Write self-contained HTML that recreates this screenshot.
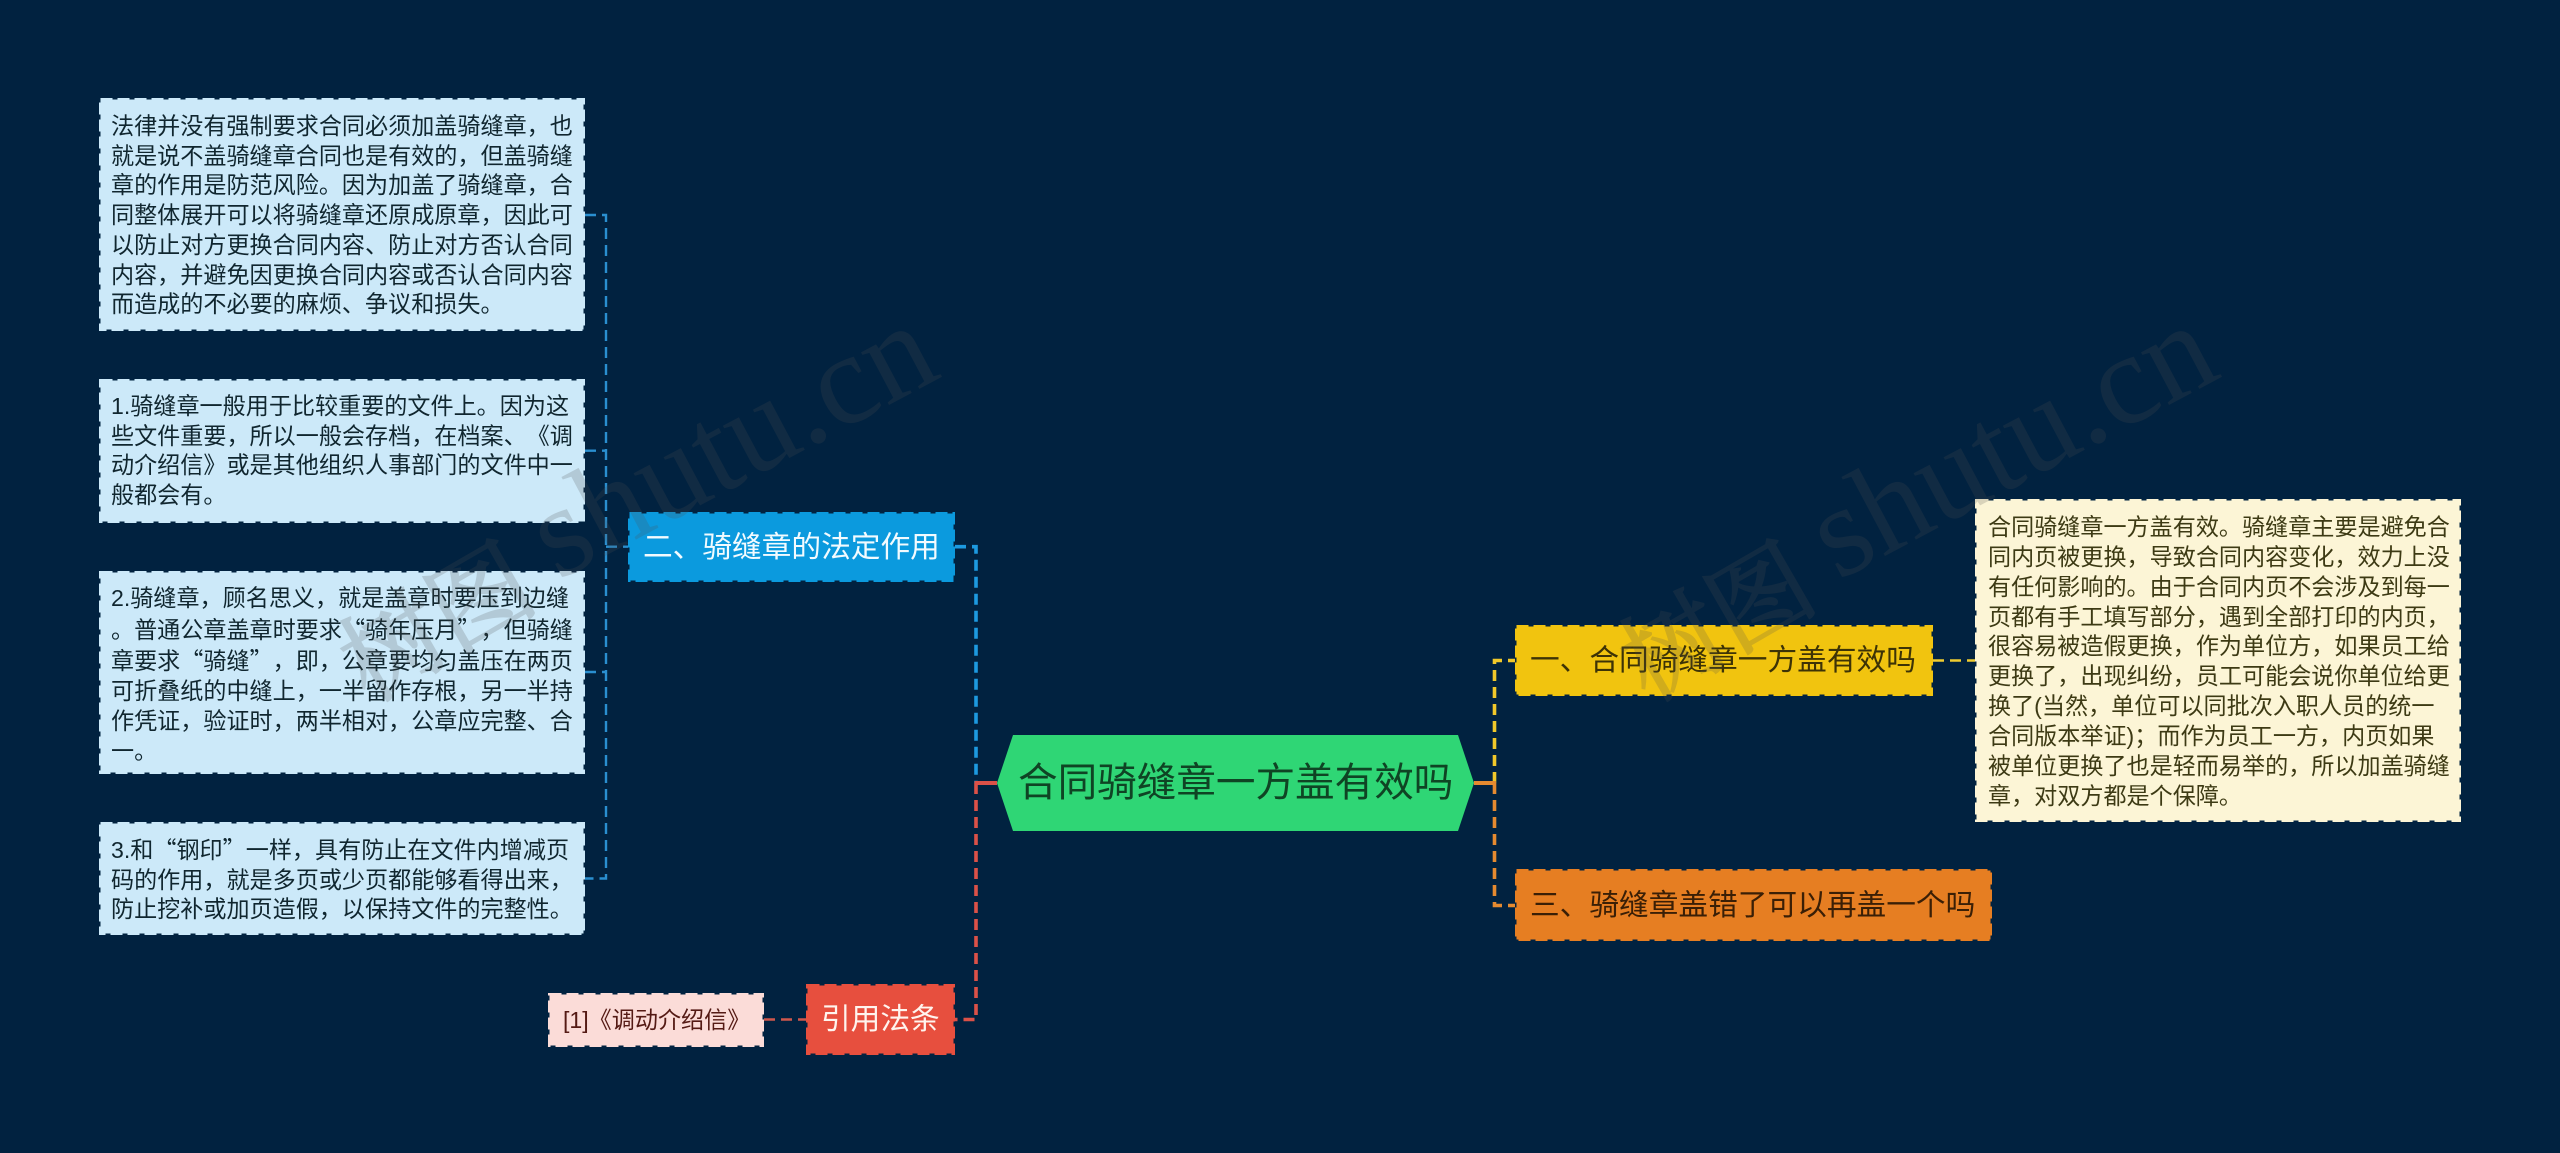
<!DOCTYPE html>
<html lang="zh-CN"><head><meta charset="utf-8"><title>合同骑缝章一方盖有效吗</title>
<style>
html,body{margin:0;padding:0;width:2560px;height:1153px;overflow:hidden;background:#012240}
body{position:relative;font-family:"Liberation Sans","Noto Sans CJK SC","WenQuanYi Zen Hei",sans-serif;text-spacing-trim:space-all;font-kerning:none}
.t{position:absolute;white-space:nowrap}
.q{font-family:"Noto Sans CJK SC",sans-serif}
.small{font-size:23.1px;line-height:29.7px}
.big{font-size:29.7px;line-height:36px}
svg{position:absolute;left:0;top:0}
</style></head><body>
<svg width="2560" height="1153" fill="none">
<g stroke-width="2.4" stroke-dasharray="11 6">
<path d="M585 215H606V878.5H585" stroke="#2a8fd0"/>
<path d="M585 450.7H606" stroke="#2a8fd0"/>
<path d="M606 546.7H628" stroke="#2a8fd0"/>
<path d="M585 672H606" stroke="#2a8fd0"/>
<path d="M764 1019.5H806" stroke="#d0574c"/>
<path d="M1933 660.5H1975" stroke="#f0cc30"/>
</g>
<g stroke-width="3.6" stroke-dasharray="11 6">
<path d="M955 546.7H976V783" stroke="#1d9ae0"/>
<path d="M976 783V1019.5H955" stroke="#db5148"/>
<path d="M1494.5 783V660.5H1515" stroke="#f1c82a"/>
<path d="M1494.5 783V905.5H1515" stroke="#e58a30"/>
</g>
<path d="M974.5 783H997" stroke="#db5148" stroke-width="4"/>
<path d="M1474 783H1496" stroke="#e58a30" stroke-width="4"/>
<polygon points="997,783 1013,735 1458,735 1474,783 1458,831 1013,831" fill="#2fd675"/>
<g stroke-width="3" stroke-dasharray="12 5">
<rect x="100.5" y="99.5" width="483" height="230" fill="#cce9f9" stroke="#cce9f9"/>
<rect x="100.5" y="380.5" width="483" height="141" fill="#cce9f9" stroke="#cce9f9"/>
<rect x="100.5" y="572.5" width="483" height="200" fill="#cce9f9" stroke="#cce9f9"/>
<rect x="100.5" y="823.5" width="483" height="110" fill="#cce9f9" stroke="#cce9f9"/>
<rect x="629.5" y="513.5" width="324" height="67" fill="#0b9ade" stroke="#0b9ade"/>
<rect x="807.5" y="985.5" width="146" height="68" fill="#e74f3e" stroke="#e74f3e"/>
<rect x="549.5" y="994.5" width="213" height="51" fill="#fbdcd8" stroke="#fbdcd8"/>
<rect x="1516.5" y="626.5" width="415" height="68" fill="#f1c40f" stroke="#f1c40f"/>
<rect x="1516.5" y="870.5" width="474" height="69" fill="#e67e22" stroke="#e67e22"/>
<rect x="1976.5" y="500.5" width="483" height="320" fill="#fcf5d6" stroke="#fcf5d6"/>
</g>
</svg>

<div class="t" style="left:1018px;top:758px;font-size:39.6px;line-height:50px;color:#0f4424">合同骑缝章一方盖有效吗</div>

<div class="t small" style="left:111px;top:112px;color:#10262f">法律并没有强制要求合同必须加盖骑缝章，也<br>就是说不盖骑缝章合同也是有效的，但盖骑缝<br>章的作用是防范风险。因为加盖了骑缝章，合<br>同整体展开可以将骑缝章还原成原章，因此可<br>以防止对方更换合同内容、防止对方否认合同<br>内容，并避免因更换合同内容或否认合同内容<br>而造成的不必要的麻烦、争议和损失。</div>

<div class="t small" style="left:111px;top:392px;color:#10262f">1.骑缝章一般用于比较重要的文件上。因为这<br>些文件重要，所以一般会存档，在档案、《调<br>动介绍信》或是其他组织人事部门的文件中一<br>般都会有。</div>

<div class="t small" style="left:111px;top:584px;color:#10262f">2.骑缝章，顾名思义，就是盖章时要压到边缝<br>。普通公章盖章时要求<span class="q">“</span>骑年压月<span class="q">”</span>，但骑缝<br>章要求<span class="q">“</span>骑缝<span class="q">”</span>，即，公章要均匀盖压在两页<br>可折叠纸的中缝上，一半留作存根，另一半持<br>作凭证，验证时，两半相对，公章应完整、合<br>一。</div>

<div class="t small" style="left:111px;top:834px;color:#10262f">3.和<span class="q">“</span>钢印<span class="q">”</span>一样，具有防止在文件内增减页<br>码的作用，就是多页或少页都能够看得出来，<br>防止挖补或加页造假，以保持文件的完整性。</div>

<div class="t big" style="left:643px;top:530px;color:#f2fbff">二、骑缝章的法定作用</div>
<div class="t big" style="left:821px;top:1002px;color:#fff4ee">引用法条</div>
<div class="t small" style="left:563px;top:1006px;color:#541a14">[1]《调动介绍信》</div>
<div class="t big" style="left:1530px;top:643px;color:#3d3306">一、合同骑缝章一方盖有效吗</div>
<div class="t big" style="left:1530px;top:888px;color:#3a1f06">三、骑缝章盖错了可以再盖一个吗</div>

<div class="t" style="left:1988px;top:513px;font-size:23.1px;line-height:29.85px;color:#3d3a14">合同骑缝章一方盖有效。骑缝章主要是避免合<br>同内页被更换，导致合同内容变化，效力上没<br>有任何影响的。由于合同内页不会涉及到每一<br>页都有手工填写部分，遇到全部打印的内页，<br>很容易被造假更换，作为单位方，如果员工给<br>更换了，出现纠纷，员工可能会说你单位给更<br>换了(当然，单位可以同批次入职人员的统一<br>合同版本举证)；而作为员工一方，内页如果<br>被单位更换了也是轻而易举的，所以加盖骑缝<br>章，对双方都是个保障。</div>

<svg width="2560" height="1153" style="pointer-events:none">
<g font-family="'Liberation Serif','Noto Serif CJK SC',serif">
<text font-size="100" font-family="'Noto Serif CJK SC',serif" fill="#505050" stroke="#505050" stroke-width="2" opacity="0.2" transform="translate(368 703) rotate(-30)">树图</text>
<text font-size="130" fill="#505050" opacity="0.2" transform="translate(558 581) rotate(-28)">shutu.cn</text>
<text font-size="100" font-family="'Noto Serif CJK SC',serif" fill="#505050" stroke="#505050" stroke-width="2" opacity="0.2" transform="translate(1648 703) rotate(-30)">树图</text>
<text font-size="130" fill="#505050" opacity="0.2" transform="translate(1838 581) rotate(-28)">shutu.cn</text>
</g>
</svg>
</body></html>
